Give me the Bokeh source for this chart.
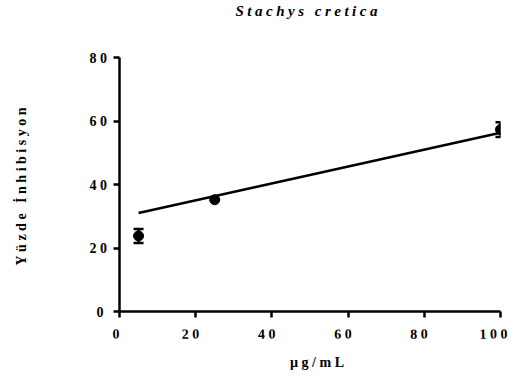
from bokeh.plotting import figure
from bokeh.models import Range1d, Whisker, ColumnDataSource, FixedTicker, TeeHead, InlineStyleSheet, Title
from bokeh.embed import file_html
from bokeh.resources import INLINE

# data
conc = [5, 25, 100]
inhibition = [23.8, 35.2, 57.3]
err = [2.2, 0.0, 2.3]
fit_x = [5, 100]
fit_y = [31.0, 56.3]
x_ticks = [0, 20, 40, 60, 80, 100]
y_ticks = [0, 20, 40, 60, 80]
title_text = "Stachys cretica"
x_label = "µg/mL"
y_label = "Yüzde İnhibisyon"

FONT = "Liberation Serif"

p = figure(width=511, height=378, output_backend="svg", toolbar_location=None,
           x_range=Range1d(0, 100), y_range=Range1d(0, 80),
           min_border_left=119, min_border_right=11, min_border_top=57, min_border_bottom=67,
           title=title_text)
p.stylesheets = [InlineStyleSheet(css=":host { letter-spacing: 3.5px; }")]
p.outline_line_color = None
p.grid.visible = False
p.background_fill_color = "white"
p.border_fill_color = "white"

# title: outermost panel above, left-aligned with an offset so the spaced text is centred
p.title.align = "left"
p.title.offset = 116
p.title.text_font = FONT
p.title.text_font_style = "bold italic"
p.title.text_font_size = "15px"
p.title.text_color = "black"
p.title.standoff = 0

# blank spacer between frame and title
p.add_layout(Title(text=" ", text_font=FONT, text_font_size="15px", standoff=21), "above")

for ax, ticks in ((p.xaxis, x_ticks), (p.yaxis, y_ticks)):
    ax.ticker = FixedTicker(ticks=ticks)
    ax.axis_line_width = 2.5
    ax.major_tick_line_width = 2.5
    ax.major_tick_out = 6
    ax.major_tick_in = 0
    ax.minor_tick_line_color = None
    ax.major_label_text_font = FONT
    ax.major_label_text_font_style = "bold"
    ax.major_label_text_font_size = "14px"
    ax.major_label_text_color = "black"
    ax.axis_label_text_font = FONT
    ax.axis_label_text_font_style = "bold"
    ax.axis_label_text_font_size = "14px"
    ax.axis_label_text_color = "black"

p.xaxis.major_label_orientation = 0.01
p.xaxis.axis_label = x_label
p.xaxis.major_label_standoff = 16
p.xaxis.axis_label_standoff = 8
p.yaxis.major_label_standoff = 10

# y label: spacer then label on the left side
p.add_layout(Title(text=" ", text_font=FONT, text_font_size="14px", standoff=41), "left")
p.add_layout(Title(text=y_label, align="left", offset=46, standoff=0, text_font=FONT,
                   text_font_style="bold", text_font_size="14px", text_color="black"), "left")

src = ColumnDataSource(dict(x=conc, y=inhibition,
                            lo=[v - e for v, e in zip(inhibition, err)],
                            hi=[v + e for v, e in zip(inhibition, err)]))

p.line(fit_x, fit_y, line_color="black", line_width=2.5)
w = Whisker(source=src, base="x", lower="lo", upper="hi", line_color="black", line_width=2.5,
            upper_head=TeeHead(size=10, line_width=2.5, line_color="black"),
            lower_head=TeeHead(size=10, line_width=2.5, line_color="black"))
p.add_layout(w)
p.scatter("x", "y", source=src, size=10, marker="circle", fill_color="black", line_color="black")

open("out.html", "w").write(file_html(p, INLINE))
